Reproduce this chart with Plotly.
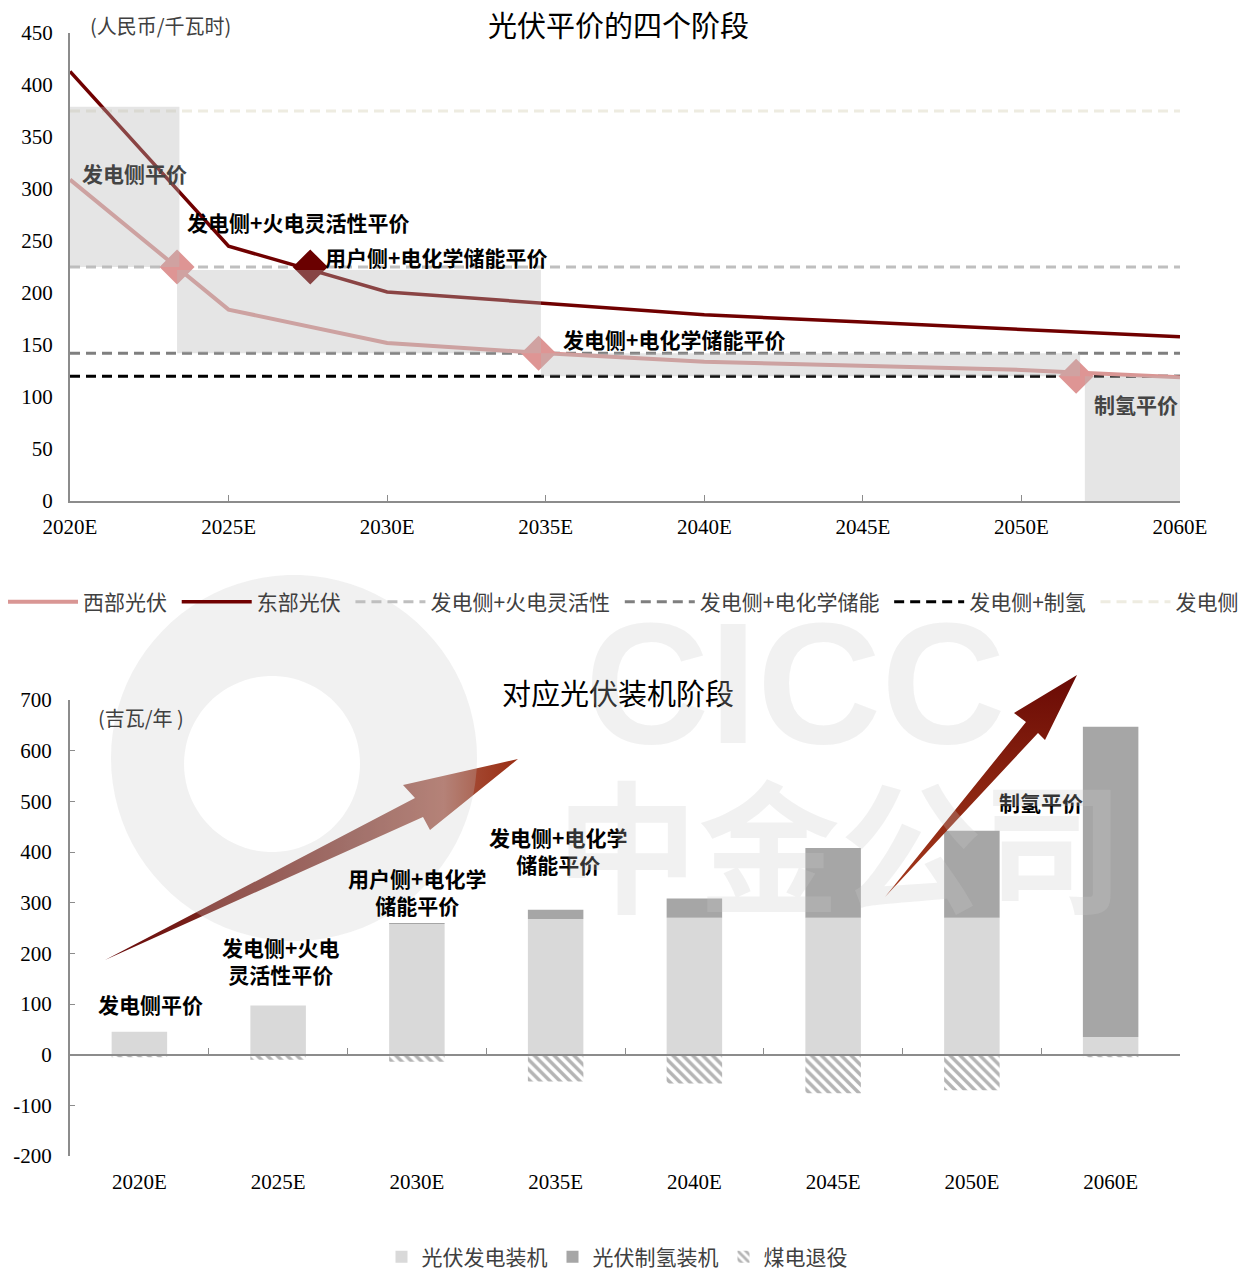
import math
import plotly.graph_objects as go

# ---------------- data ----------------
years = ["2020E", "2025E", "2030E", "2035E", "2040E", "2045E", "2050E", "2060E"]
west_pv = [309, 184, 152, 142, 134, 130, 126, 119]
east_pv = [413, 245, 201, 190, 179, 172, 165, 158]

ref_names = ["发电侧+火电灵活性", "发电侧+电化学储能", "发电侧+制氢", "发电侧"]
ref_values = [225, 142, 120, 375]

milestone_x = [0.675, 1.515, 2.955, 6.345]
milestone_y = [225, 225, 142, 120]

stage_x0 = [0.0, 0.675, 2.97, 6.40]
stage_x1 = [0.69, 2.97, 6.37, 7.0]
stage_y0 = [225, 142, 120, 0]
stage_y1 = [379, 222, 142, 120]

top_labels = ["发电侧平价", "发电侧+火电灵活性平价", "用户侧+电化学储能平价", "发电侧+电化学储能平价", "制氢平价"]
top_label_x = [0.06, 0.725, 1.595, 3.096, 6.444]
top_label_y = [315, 268, 235, 156, 93]

pv_power = [45, 97, 258, 268, 270, 270, 270, 35]
pv_h2 = [0, 0, 1, 18, 38, 138, 172, 612]
coal_retire = [-5, -10, -14, -53, -57, -76, -70, -5]

bottom_ticks = [-200, -100, 0, 100, 200, 300, 400, 500, 600, 700]
bottom_tick_text = ["-200", "-100", "0", "100", "200", "300", "400", "500", "600", "700"]

bottom_labels = ["发电侧平价", "发电侧+火电<br>灵活性平价", "用户侧+电化学<br>储能平价", "发电侧+电化学<br>储能平价", "制氢平价"]
bottom_label_x = [0.08, 1.016, 2.0, 3.02, 6.5]
bottom_label_y = [100, 186, 323, 403, 499]

# ---------------- layout helpers ----------------
W, H = 1248, 1270
def px(x):
    return x / W
def py(y):
    return 1 - y / H

CJK = "Noto Sans CJK SC, sans-serif"
SERIF = "Liberation Serif, Times New Roman, serif"
AXC = "#8C8C8C"
NB = "\u00a0"

fig = go.Figure()

# reference (parity) lines
ref_colors = ["#BFBFBF", "#7F7F7F", "#000000", "#EEECE1"]
for i, (nm, v) in enumerate(zip(ref_names, ref_values)):
    fig.add_trace(go.Scatter(
        x=[0, 7], y=[v, v], mode="lines", name=nm + NB,
        line=dict(color=ref_colors[i], width=3, dash="10px,6px"),
        legendrank=3 + i, legend="legend", hoverinfo="skip"))

fig.add_trace(go.Scatter(x=list(range(len(years))), y=west_pv, mode="lines", name="西部光伏" + NB,
                         line=dict(color="#D99694", width=4), legendrank=1, legend="legend"))
fig.add_trace(go.Scatter(x=list(range(len(years))), y=east_pv, mode="lines", name="东部光伏" + NB,
                         line=dict(color="#700000", width=3.5), legendrank=2, legend="legend"))
fig.add_trace(go.Scatter(x=milestone_x, y=milestone_y, mode="markers", showlegend=False,
                         marker=dict(symbol="diamond", size=27,
                                     color=["#DE9594", "#6A0000", "#DE9594", "#DE9594"],
                                     line=dict(width=0))))

# bottom bars
fig.add_trace(go.Bar(x=years, y=pv_power, name="光伏发电装机", marker=dict(color="#D9D9D9", line=dict(width=0)),
                     width=0.4, xaxis="x2", yaxis="y2", legend="legend2"))
fig.add_trace(go.Bar(x=years, y=pv_h2, name="光伏制氢装机", marker=dict(color="#A6A6A6", line=dict(width=0)),
                     width=0.4, xaxis="x2", yaxis="y2", legend="legend2"))
fig.add_trace(go.Bar(x=years, y=coal_retire, name="煤电退役",
                     marker=dict(color="white", line=dict(width=0),
                                 pattern=dict(shape="\\", fgcolor="#6A6A6A", bgcolor="white",
                                              size=7, solidity=0.5, fillmode="overlay")),
                     width=0.4, xaxis="x2", yaxis="y2", legend="legend2"))

# decorative arrows (pixel overlay axes)
a1x = [105, 415, 403, 518, 430, 423, 105]
a1y = [960, 798, 785, 759, 830, 817, 960]
fig.add_trace(go.Scatter(x=a1x, y=a1y, mode="lines", fill="toself", line=dict(width=0),
                         fillgradient=dict(type="horizontal",
                                           colorscale=[[0, "#680808"], [0.3, "#7E2A22"], [0.6, "#93524A"],
                                                       [0.82, "#AE6A5C"], [0.9, "#A2452E"], [1, "#9A2E14"]]),
                         xaxis="x3", yaxis="y3", showlegend=False, hoverinfo="skip"))
a2x = [885, 1026, 1014, 1077, 1045, 1038, 885]
a2y = [897, 722, 713, 675, 740, 733, 897]
fig.add_trace(go.Scatter(x=a2x, y=a2y, mode="lines", fill="toself", line=dict(width=0),
                         fillgradient=dict(type="vertical",
                                           colorscale=[[0, "#A5391D"], [0.5, "#8A2410"], [1, "#6A0A05"]]),
                         xaxis="x3", yaxis="y3", showlegend=False, hoverinfo="skip"))

shapes = []
for x0, x1, y0, y1 in zip(stage_x0, stage_x1, stage_y0, stage_y1):
    shapes.append(dict(type="rect", xref="x", yref="y", x0=x0, x1=x1, y0=y0, y1=y1,
                       fillcolor="rgba(185,185,185,0.37)", line=dict(width=0), layer="above"))

# watermark ring (CICC logo)
def circ(cx, cy, r, n=90, rev=False):
    pts = []
    rng = range(n) if not rev else range(n - 1, -1, -1)
    for k in rng:
        t = 2 * math.pi * k / n
        pts.append((cx + r * math.cos(t), cy + r * math.sin(t)))
    return "M" + " L".join(f"{a:.1f},{b:.1f}" for a, b in pts) + " Z"
ring = circ(294, 758, 183) + " " + circ(272, 764, 88, rev=True)
shapes.append(dict(type="path", xref="x3", yref="y3", path=ring, fillcolor="rgba(200,200,200,0.26)",
                   line=dict(width=0), layer="above"))

annotations = []
for t, x, y in zip(top_labels, top_label_x, top_label_y):
    col = "#444444" if t in ("发电侧平价", "制氢平价") else "#000000"
    annotations.append(dict(text=f"<b>{t}</b>", x=x, y=y, xref="x", yref="y", xanchor="left", yanchor="middle",
                            showarrow=False, font=dict(family=CJK, size=21, color=col)))
for t, x, y in zip(bottom_labels, bottom_label_x, bottom_label_y):
    annotations.append(dict(text=f"<b>{t}</b>", x=x, y=y, xref="x2", yref="y2", xanchor="center", yanchor="middle",
                            showarrow=False, font=dict(family=CJK, size=21, color="#000000")))
annotations += [
    dict(text="光伏平价的四个阶段", x=px(618), y=py(24), xref="paper", yref="paper", showarrow=False,
         xanchor="center", yanchor="middle", font=dict(family=CJK, size=29, color="#000")),
    dict(text="(人民币/千瓦时)", x=px(88), y=py(26), xref="paper", yref="paper", showarrow=False,
         xanchor="left", yanchor="middle", font=dict(family=CJK, size=20, color="#404040")),
    dict(text="对应光伏装机阶段", x=px(618), y=py(692), xref="paper", yref="paper", showarrow=False,
         xanchor="center", yanchor="middle", font=dict(family=CJK, size=29, color="#000")),
    dict(text="(吉瓦/年 )", x=px(96), y=py(718), xref="paper", yref="paper", showarrow=False,
         xanchor="left", yanchor="middle", font=dict(family=CJK, size=20, color="#404040")),
    dict(text="<b>CICC</b>", x=px(795), y=py(683), xref="paper", yref="paper", showarrow=False,
         xanchor="center", yanchor="middle", font=dict(family="Liberation Sans, Arial", size=172, color="rgba(200,200,200,0.26)")),
    dict(text="<b>中金公司</b>", x=px(840), y=py(840), xref="paper", yref="paper", showarrow=False,
         xanchor="center", yanchor="middle", font=dict(family=CJK, size=142, color="rgba(200,200,200,0.26)")),
]

fig.update_layout(
    width=W, height=H, margin=dict(l=0, r=0, t=0, b=0, autoexpand=False),
    paper_bgcolor="white", plot_bgcolor="rgba(0,0,0,0)",
    barmode="relative", bargap=0.6,
    font=dict(family=CJK, size=18, color="#000"),
    xaxis=dict(domain=[px(70), px(1180)], range=[0, 7], tickvals=list(range(len(years))), ticktext=years,
               showline=True, linecolor=AXC, linewidth=2, ticks="inside", ticklen=6, tickcolor=AXC,
               showgrid=False, zeroline=False, ticklabelstandoff=6, automargin=False,
               tickfont=dict(family=SERIF, size=21, color="#000"), anchor="y"),
    yaxis=dict(domain=[py(501), py(33)], range=[0, 450], dtick=50, showline=True, linecolor=AXC, linewidth=2,
               ticks="", showgrid=False, zeroline=False, tickfont=dict(family=SERIF, size=21, color="#000"),
               anchor="x", ticklabelstandoff=11, automargin=False),
    xaxis2=dict(domain=[px(70), px(1180)], type="category", categoryorder="array", categoryarray=years,
                range=[-0.5, 7.5], anchor="free", position=py(1055), showline=True, linecolor=AXC, linewidth=2,
                ticks="inside", ticklen=6, tickcolor=AXC, tickson="boundaries", showgrid=False,
                ticklabelstandoff=108, automargin=False, tickfont=dict(family=SERIF, size=21, color="#000")),
    yaxis2=dict(domain=[py(1156), py(700)], range=[-200, 700], tickvals=bottom_ticks, ticktext=bottom_tick_text,
                showline=True, linecolor=AXC, automargin=False,
                linewidth=2, ticks="inside", ticklen=5, tickcolor=AXC, showgrid=False, zeroline=False,
                tickfont=dict(family=SERIF, size=21, color="#000"), anchor="x2", ticklabelstandoff=12),
    xaxis3=dict(domain=[0, 1], range=[0, W], visible=False, anchor="y3", fixedrange=True),
    yaxis3=dict(domain=[0, 1], range=[H, 0], visible=False, anchor="x3", fixedrange=True),
    legend=dict(orientation="h", x=px(3), y=py(602), xanchor="left", yanchor="middle",
                font=dict(family=CJK, size=21, color="#404040"), itemwidth=70, bgcolor="rgba(0,0,0,0)"),
    legend2=dict(orientation="h", x=px(617), y=py(1257), xanchor="center", yanchor="middle",
                 font=dict(family=CJK, size=21, color="#404040"), bgcolor="rgba(0,0,0,0)"),
    shapes=shapes, annotations=annotations,
)

fig.write_html("out.html")
